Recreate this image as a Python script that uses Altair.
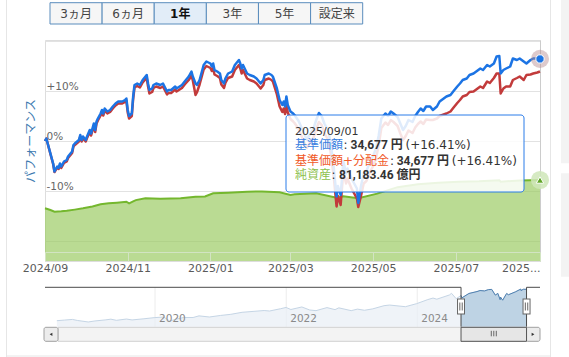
import altair as alt
import pandas as pd

# ---------------- data ----------------
range_start = "2024-09-01"
range_end = "2025-09-01"
nav_start = "2018-04-28"
nav_end = "2025-11-15"

# trading-day samples of the 1-year view (days after range_start)
perf_days = [0, 1, 4, 6, 7, 9, 10, 11, 12, 14, 16, 17, 20, 21, 22, 25, 26, 27, 28, 30,
             31, 33, 34, 36, 37, 38, 39, 41, 42, 43, 44, 46, 48, 50, 52, 54, 57, 59, 60, 61,
             62, 64, 65, 66, 68, 70, 72, 75, 76, 77, 79, 80, 82, 85, 87, 90, 91, 93, 96, 97,
             101, 103, 106, 108, 109, 111, 112, 114, 117, 119, 122, 123, 124, 125, 127, 129, 130, 132, 133, 135,
             138, 140, 143, 144, 145, 146, 149, 151, 154, 156, 159, 161, 162, 165, 167, 168, 171, 173, 175, 176,
             177, 178, 179, 181, 183, 184, 187, 189, 191, 193, 195, 198, 200, 202, 204, 206, 209, 211, 213, 215,
             216, 218, 220, 222, 223, 226, 228, 230, 231, 233, 235, 237, 240, 242, 244, 246, 248, 251, 253, 255,
             257, 260, 262, 264, 266, 268, 271, 273, 275, 277, 279, 281, 284, 286, 289, 291, 294, 296, 299, 301,
             304, 306, 308, 311, 313, 316, 318, 321, 323, 326, 328, 331, 333, 335, 336, 338, 340, 343, 345, 348,
             350, 353, 355, 358, 360, 363, 365]
# 基準価額 performance (%)
kijun_pct = [0.0, 0.5, -2.5, -4.5, -6.1, -5.1, -5.4, -4.5, -5.1, -4.1, -3.8, -3.1, -2.1, -0.8, -0.5, 0.2, 1.2, 0.2, 0.9, 0.2,
             0.9, 2.2, 1.5, 3.5, 2.2, 3.9, 4.5, 5.5, 6.2, 5.5, 6.5, 5.9, 6.2, 6.9, 7.5, 7.9, 7.9, 8.2, 8.5, 6.2,
             5.0, 5.5, 8.9, 11.2, 11.5, 11.2, 12.2, 13.2, 11.5, 10.2, 10.5, 11.2, 11.5, 11.2, 11.5, 9.9, 10.2, 10.2, 10.9, 10.5,
             11.2, 11.9, 12.9, 13.9, 12.9, 11.5, 11.2, 12.2, 15.2, 15.9, 15.5, 14.9, 15.5, 14.2, 13.9, 13.5, 12.2, 11.5, 12.5, 13.5,
             13.9, 15.2, 16.2, 15.5, 14.5, 15.2, 13.5, 13.2, 12.9, 12.5, 11.5, 12.2, 13.2, 13.5, 13.2, 12.9, 10.5, 8.2, 7.2, 7.9,
             6.9, 8.9, 7.2, 5.9, 5.5, 5.2, 4.0, 2.8, 1.5, 0.3, 1.2, 2.5, 4.2, 5.6, 5.0, 3.5, 2.0, -1.0, -5.5, -11.1,
             -9.0, -10.8, -4.0, -6.5, -5.5, -7.5, -8.5, -9.5, -12.4, -9.0, -6.5, -6.0, -4.0, -3.0, -1.5, 1.0, 4.5, 5.5, 5.0, 5.9,
             5.5, 4.8, 3.5, 2.2, 3.0, 4.2, 3.8, 5.0, 5.8, 6.5, 6.0, 6.9, 6.9, 6.2, 6.9, 7.9, 8.5, 8.9, 9.2, 9.9,
             10.9, 11.5, 12.2, 12.5, 13.2, 13.5, 13.9, 14.5, 14.2, 15.2, 14.9, 15.5, 16.9, 17.0, 13.5, 14.2, 14.5, 14.9, 16.5, 16.2,
             16.5, 15.9, 15.5, 16.2, 16.5, 16.5, 16.41]
# 基準価額+分配金 performance (%)
bunpai_pct = [0.0, 0.5, -2.6, -4.6, -6.2, -5.3, -5.6, -4.8, -5.4, -4.4, -4.1, -3.4, -2.4, -1.1, -0.8, -0.1, 0.9, -0.1, 0.6, -0.1,
              0.6, 1.8, 1.1, 3.1, 1.8, 3.5, 4.1, 5.1, 5.8, 5.1, 6.1, 5.5, 5.8, 6.5, 7.1, 7.5, 7.5, 7.8, 8.1, 5.7,
              4.5, 5.0, 8.4, 10.7, 11.0, 10.7, 11.7, 12.6, 10.9, 9.5, 9.8, 10.6, 10.9, 10.6, 10.9, 9.3, 9.6, 9.6, 10.3, 9.9,
              10.6, 11.3, 12.2, 13.1, 12.1, 9.2, 9.7, 11.3, 14.3, 15.0, 14.6, 14.0, 14.6, 13.3, 13.0, 12.6, 11.3, 10.6, 11.6, 12.6,
              12.9, 14.2, 15.2, 14.5, 13.5, 14.2, 12.5, 12.2, 11.9, 11.5, 10.5, 11.2, 12.2, 12.5, 12.2, 11.9, 9.3, 6.9, 5.8, 6.5,
              5.4, 7.4, 5.7, 4.4, 3.9, 3.6, 2.4, 1.1, -0.2, -1.4, -0.5, 0.7, 2.4, 3.8, 3.2, 1.6, 0.1, -2.9, -7.4, -13.1,
              -11.0, -12.8, -6.0, -8.5, -7.5, -9.5, -10.5, -11.5, -13.2, -11.0, -8.5, -8.0, -6.0, -5.0, -3.5, -1.0, 2.6, 3.7, 3.2, 4.2,
              3.8, 3.0, 1.5, 0.2, 1.0, 2.1, 1.6, 2.7, 3.4, 3.9, 3.4, 4.3, 4.2, 4.2, 4.5, 5.0, 5.3, 5.5, 5.9, 6.6,
              7.6, 8.2, 8.9, 9.2, 9.8, 9.9, 10.3, 10.9, 10.6, 11.9, 11.6, 12.6, 13.5, 13.5, 9.5, 10.5, 10.9, 10.9, 12.2, 12.6,
              12.9, 12.2, 13.2, 13.3, 13.5, 13.7, 13.9]

# 純資産 (億円)
asset_days = [0, 4, 7, 12, 16, 22, 28, 35, 41, 47, 53, 60, 62, 65, 67, 74, 85, 100, 111, 118,
              124, 135, 149, 160, 173, 181, 184, 200, 215, 220, 231, 245, 260, 275, 290, 305, 320, 335, 336, 350, 365]
asset_oku = [52800, 51100, 49400, 49800, 50300, 51500, 52800, 54600, 56800, 57800, 58500, 59400, 57800, 59800, 61000,
             62800, 62500, 63000, 64400, 64700, 67800, 68500, 69400, 69700, 68800, 66100, 66800, 68000, 63500, 64800,
             63000, 67500, 74000, 77000, 78500, 79500, 80000, 81000, 79500, 80800, 81183.46]

# navigator: 基準価額 since inception (円)
nav_dates = ["2018-07-03", "2018-08-15", "2018-09-28", "2018-10-25", "2018-12-25", "2019-01-31", "2019-03-29",
             "2019-04-30", "2019-05-31", "2019-07-26", "2019-08-26", "2019-10-31", "2019-12-27", "2020-02-19",
             "2020-03-23", "2020-04-30", "2020-06-08", "2020-07-31", "2020-09-02", "2020-10-30", "2020-12-30",
             "2021-02-26", "2021-04-30", "2021-06-30", "2021-08-31", "2021-09-30", "2021-11-30", "2021-12-31",
             "2022-01-27", "2022-03-29", "2022-05-12", "2022-06-16", "2022-08-16", "2022-09-30", "2022-10-21",
             "2022-12-29", "2023-02-02", "2023-03-13", "2023-04-28", "2023-06-30", "2023-07-31", "2023-10-27",
             "2023-12-29", "2024-02-29", "2024-03-29", "2024-04-19", "2024-06-28", "2024-07-10", "2024-08-05",
             "2024-09-01", "2024-09-06", "2024-10-15", "2024-11-29", "2024-12-16", "2025-01-10", "2025-01-31",
             "2025-02-19", "2025-03-11", "2025-03-25", "2025-04-07", "2025-04-09", "2025-04-21", "2025-05-13",
             "2025-05-23", "2025-06-30", "2025-07-31", "2025-08-01", "2025-08-14", "2025-09-01"]
nav_values = [10000, 10500, 11000, 10200, 9000, 9800, 10600, 11200, 10300, 11300, 10600, 11500, 12400, 12900,
              9700, 11300, 12500, 12500, 13800, 12900, 14100, 15000, 16600, 17300, 18000, 17600, 19400, 20400,
              18800, 20800, 18400, 17900, 20300, 18700, 20100, 17900, 19100, 18200, 19300, 21800, 22300, 21000,
              23400, 26600, 27800, 26900, 30200, 31500, 27300, 29790, 27970, 31400, 32900, 33700, 33400, 34400,
              34600, 30100, 31450, 26500, 28600, 26100, 31400, 30400, 32600, 34850, 33630, 34700, 34677]

x_tick_dates = ["2024-09-01", "2024-11-01", "2025-01-01", "2025-03-01", "2025-05-01", "2025-07-01", "2025-09-01"]
perf_ticks = [-20, -10, 0, 10, 20]
nav_years = ["2020-01-01", "2022-01-01", "2024-01-01"]
buttons = ["3ヵ月", "6ヵ月", "1年", "3年", "5年", "設定来"]
selected_button = "1年"

tip_date = "2025/09/01"
tip_price = 34677
tip_perf = 16.41
tip_assets = 81183.46

assert len(perf_days) == len(kijun_pct) == len(bunpai_pct)
assert len(asset_days) == len(asset_oku)
assert len(nav_dates) == len(nav_values)

# ---------------- styles ----------------
W, H = 495, 221
LAT = "DejaVu Sans"
CJK = "Noto Sans CJK JP"
MIX = "DejaVu Sans, Noto Sans CJK JP"
BOLDMIX = "Roboto, Noto Sans CJK JP"
BLUE = "#1c74e4"
RED = "#c23b3b"
GREEN_FILL = "#9ccc65"
GREEN_LINE = "#74b72e"
PERF_DOMAIN = [-24.0, 20.2]
ASSET_DOMAIN = [0, 221500]
NAV_DOMAIN_Y = [5284, 36249]


def dt(s):
    t = pd.Timestamp(s)
    return alt.DateTime(year=t.year, month=t.month, date=t.day)


base = pd.Timestamp(range_start)
perf = pd.DataFrame({
    "date": [base + pd.Timedelta(days=d) for d in perf_days],
    "kijun": kijun_pct,
    "bunpai": bunpai_pct,
})
assets = pd.DataFrame({
    "date": [base + pd.Timedelta(days=d) for d in asset_days],
    "oku": asset_oku,
})
perf_last = perf.tail(1)
assets_last = assets.tail(1)
nav = pd.DataFrame({"date": pd.to_datetime(nav_dates), "v": nav_values})
sel = pd.DataFrame({
    "s": [pd.Timestamp(range_start)], "e": [pd.Timestamp(range_end)],
    "n0": [pd.Timestamp(nav_start)], "n1": [pd.Timestamp(nav_end)],
    "mid": [pd.Timestamp(range_start) + (pd.Timestamp(range_end) - pd.Timestamp(range_start)) / 2],
})
years = pd.DataFrame({"y": pd.to_datetime(nav_years), "label": [d[:4] for d in nav_years]})
btn = pd.DataFrame({"label": buttons})
one = pd.DataFrame({"k": [0]})

time_scale = alt.Scale(domain=[dt(range_start), dt(range_end)])
last_test = "year(datum.value) == 2025 && month(datum.value) == 8"
x_axis = alt.Axis(
    values=[dt(d) for d in x_tick_dates],
    labelExpr=f"{last_test} ? '2025...' : timeFormat(datum.value, '%Y/%m')",
    labelAlign={"condition": {"test": last_test, "value": "right"}, "value": "center"},
    labelFlush=False, labelOverlap=False, labelBound=False,
    offset=-9, tickSize=9, tickColor="#d2e4c2", domainColor="#d2e4c2",
    labelPadding=1, labelFont=LAT, labelFontSize=11, labelColor="#5a5a5a",
    grid=False, title=None, zindex=1,
)
x_main = alt.X("date:T", scale=time_scale, axis=x_axis)

y_perf_axis = alt.Axis(
    orient="left", values=perf_ticks, grid=True, gridColor="#e2e2e2", domain=False,
    ticks=False, tickSize=0, labelAlign="left", labelBaseline="bottom", labelPadding=-1,
    labelExpr="abs(datum.value) >= 20 ? '' : (datum.value > 0 ? '+' : '') + datum.value + '%'",
    labelFont=LAT, labelFontSize=10.5, labelColor="#666666",
    title="パフォーマンス", titleFont=CJK, titleFontSize=12, titleFontWeight="normal",
    titleColor="#3d7ab0", titleAngle=270, titleX=-15, titleY=100.5,
    titleAlign="center", titleBaseline="middle",
)
perf_scale = alt.Scale(domain=PERF_DOMAIN)
y_kijun = alt.Y("kijun:Q", scale=perf_scale, axis=y_perf_axis, title="パフォーマンス")
y_bunpai = alt.Y("bunpai:Q", scale=perf_scale, axis=y_perf_axis, title="パフォーマンス")

asset_y = alt.Y("oku:Q", scale=alt.Scale(domain=ASSET_DOMAIN),
                axis=alt.Axis(orient="right", domain=True, domainColor="#cccccc", labels=False,
                              ticks=False, grid=False, title=None))

# ---- net assets (green area, right axis) ----
asset_area = alt.Chart(assets).mark_area(
    color=GREEN_FILL, line={"color": GREEN_LINE, "strokeWidth": 2}
).encode(x=x_main, y=asset_y)
asset_halo = alt.Chart(assets_last).mark_circle(size=330, color="#cfe6b8", opacity=0.85).encode(
    x=x_main, y=asset_y)
asset_mark = alt.Chart(assets_last).mark_point(
    shape="triangle-up", filled=True, size=55, color="#5fa526", stroke="white", strokeWidth=1, opacity=1
).encode(x=x_main, y=asset_y)
asset_layer = alt.layer(asset_area, asset_halo, asset_mark)

# ---- performance lines ----
red_line = alt.Chart(perf).mark_line(color=RED, strokeWidth=2.5, strokeJoin="round").encode(
    x=x_main, y=y_bunpai)
blue_line = alt.Chart(perf).mark_line(color=BLUE, strokeWidth=2.5, strokeJoin="round").encode(
    x=x_main, y=y_kijun)
blue_halo = alt.Chart(perf_last).mark_circle(size=330, color="#b58a8e", opacity=0.45).encode(
    x=x_main, y=y_kijun)
blue_mark = alt.Chart(perf_last).mark_point(
    shape="circle", filled=True, size=70, color=BLUE, stroke="white", strokeWidth=1, opacity=1
).encode(x=x_main, y=y_kijun)
perf_layer = alt.layer(red_line, blue_line, blue_halo, blue_mark)

time_layer = alt.layer(asset_layer, perf_layer).resolve_scale(y="independent")

# ---- navigator ----
nav_xs = alt.Scale(domain=[dt(nav_start), dt(nav_end)])
nav_ys = alt.Scale(domain=NAV_DOMAIN_Y, range=[286.7, 247.3])
nx = lambda f: alt.X(f"{f}:T", scale=nav_xs, axis=None)
NT, NB = 247.3, 286.7

nav_grid = alt.Chart(years).mark_rule(color="#ececec").encode(x=nx("y"), y=alt.value(NT), y2=alt.value(NB))
nav_light = alt.Chart(nav).mark_area(color="#e8eef5", line={"color": "#c5d5e5", "strokeWidth": 1}).encode(
    x=nx("date"), y=alt.Y("v:Q", scale=nav_ys, axis=None), y2=alt.datum(NAV_DOMAIN_Y[0]))
nav_dark = alt.Chart(nav).transform_filter(
    alt.FieldGTEPredicate(field="date", gte=dt(range_start))
).mark_area(color="#a9c4dc", line={"color": "#4f80b0", "strokeWidth": 1}).encode(
    x=nx("date"), y=alt.Y("v:Q", scale=nav_ys, axis=None), y2=alt.datum(NAV_DOMAIN_Y[0]))
nav_labels = alt.Chart(years).mark_text(align="left", dx=4, baseline="middle", font=LAT, fontSize=10.5,
                                        color="#8a8a8a").encode(x=nx("y"), y=alt.value(278.7), text="label:N")
OUT = "#4a4a4a"
o1 = alt.Chart(sel).mark_rule(color=OUT).encode(x=nx("n0"), x2="s:T", y=alt.value(NT))
o2 = alt.Chart(sel).mark_rule(color=OUT).encode(x=nx("s"), y=alt.value(NT), y2=alt.value(NB))
o3 = alt.Chart(sel).mark_rule(color=OUT).encode(x=nx("e"), y=alt.value(NT), y2=alt.value(NB))
o4 = alt.Chart(sel).mark_rule(color=OUT).encode(x=nx("e"), x2="n1:T", y=alt.value(NT))

# scrollbar
SB0, SB1 = 287.3, 301.3
track = alt.Chart(one).mark_rect(fill="#f3f3f3", stroke="#d0d0d0", strokeWidth=1).encode(
    x=alt.value(13), x2=alt.value(480.7), y=alt.value(SB0), y2=alt.value(SB1))
lbtn = alt.Chart(one).mark_rect(fill="#ececec", stroke="#a0a0a0", strokeWidth=1, cornerRadius=2).encode(
    x=alt.value(-1), x2=alt.value(13), y=alt.value(SB0), y2=alt.value(SB1))
rbtn = alt.Chart(one).mark_rect(fill="#ececec", stroke="#a0a0a0", strokeWidth=1, cornerRadius=2).encode(
    x=alt.value(480.7), x2=alt.value(495), y=alt.value(SB0), y2=alt.value(SB1))
larr = alt.Chart(one).mark_point(shape="triangle-left", filled=True, size=10, color="#333333", opacity=1).encode(
    x=alt.value(6), y=alt.value(294.3))
rarr = alt.Chart(one).mark_point(shape="triangle-right", filled=True, size=10, color="#333333", opacity=1).encode(
    x=alt.value(488), y=alt.value(294.3))
thumb = alt.Chart(sel).mark_rect(fill="#e6e6e6", stroke="#555555", strokeWidth=1).encode(
    x=nx("s"), x2="e:T", y=alt.value(SB0), y2=alt.value(SB1))
grips = [alt.Chart(sel).mark_rule(color="#666666", xOffset=o).encode(x=nx("mid"), y=alt.value(290.8), y2=alt.value(296.3))
         for o in (-2.5, 0, 2.5)]

# handles
handles = []
for f in ("s", "e"):
    handles.append(alt.Chart(sel).mark_rule(color="#666666", strokeWidth=8).encode(
        x=nx(f), y=alt.value(258.5), y2=alt.value(274.5)))
    handles.append(alt.Chart(sel).mark_rule(color="white", strokeWidth=6).encode(
        x=nx(f), y=alt.value(259.5), y2=alt.value(273.5)))
    for o in (-1.2, 1.2):
        handles.append(alt.Chart(sel).mark_rule(color="#666666", strokeWidth=1, xOffset=o).encode(
            x=nx(f), y=alt.value(262.5), y2=alt.value(270.5)))

nav_layer = alt.layer(nav_grid, nav_light, nav_dark, nav_labels, track, lbtn, rbtn, larr, rarr,
                      thumb, *grips, o1, o2, o3, o4, *handles)

# ---- range buttons ----
bx = alt.X("label:N", sort=buttons, scale=alt.Scale(range=[5, 317.7], paddingInner=0, paddingOuter=0), axis=None)
btn_rect = alt.Chart(btn).mark_bar(stroke="#5a8dbd", strokeWidth=1).encode(
    x=bx, y=alt.value(-37.3), y2=alt.value(-16),
    fill=alt.condition(alt.datum.label == selected_button, alt.value("#e2edf8"), alt.value("#f6f6f6")))
btn_text = alt.Chart(btn).transform_filter(alt.datum.label != selected_button).mark_text(
    font=MIX, fontSize=12, color="#444444", baseline="middle").encode(x=bx, y=alt.value(-26.4), text="label:N")
btn_sel = alt.Chart(btn).transform_filter(alt.datum.label == selected_button).mark_text(
    font=MIX, fontSize=12, fontWeight="bold", color="#111111", baseline="middle").encode(
    x=bx, y=alt.value(-26.4), text="label:N")
btn_layer = alt.layer(btn_rect, btn_text, btn_sel)

# ---- tooltip ----
tip_box = alt.Chart(one).mark_rect(fill="white", fillOpacity=0.86, stroke="#2b7ce9", strokeWidth=1,
                                   cornerRadius=3).encode(
    x=alt.value(241), x2=alt.value(479), y=alt.value(75), y2=alt.value(152))


def tt(text, x, y, color="#333333", font=MIX, size=12, weight="normal"):
    return alt.Chart(one).mark_text(text=text, align="left", baseline="middle", font=font, fontSize=size,
                                    fontWeight=weight, color=color).encode(x=alt.value(x), y=alt.value(y))


price_s = f"{tip_price:,} 円"
perf_s = f"(+{tip_perf:.2f}%)"
assets_s = f"{tip_assets:,.2f} 億円"
tips = [
    tt(tip_date, 250, 91.6, font=LAT, size=11),
    tt("基準価額", 250, 105.3, color="#3a7fe0"), tt(":", 298.5, 105.3),
    tt(price_s, 305.5, 105.3, font=BOLDMIX, size=12, weight="bold"), tt(perf_s, 360.5, 105.3, font=LAT, size=12),
    tt("基準価額+分配金", 250, 121.2, color="#f05a28"), tt(":", 345.0, 121.2),
    tt(price_s, 351.7, 121.2, font=BOLDMIX, size=12, weight="bold"), tt(perf_s, 406.7, 121.2, font=LAT, size=12),
    tt("純資産", 250, 134.8, color="#8cbf4c"), tt(":", 286.5, 134.8),
    tt(assets_s, 294, 134.8, font=BOLDMIX, size=12, weight="bold"),
]

# ---- page frame ----
frame = [
    alt.Chart(one).mark_rule(color="#e6e6e6").encode(x=alt.value(-38.5), y=alt.value(-40), y2=alt.value(317)),
    alt.Chart(one).mark_rule(color="#e6e6e6").encode(x=alt.value(505.5), y=alt.value(-40), y2=alt.value(317)),
    alt.Chart(one).mark_rule(color="#e6e6e6").encode(x=alt.value(-38.5), x2=alt.value(505.5), y=alt.value(316)),
    alt.Chart(one).mark_rect(color="#f3f3f3").encode(x=alt.value(516), x2=alt.value(524), y=alt.value(-40), y2=alt.value(123.3)),
    alt.Chart(one).mark_rect(color="#f3f3f3").encode(x=alt.value(516), x2=alt.value(524), y=alt.value(133.3), y2=alt.value(236.7)),
]

chart = alt.layer(
    *frame, time_layer, nav_layer, btn_layer, tip_box, *tips
).resolve_scale(x="independent", y="independent").properties(
    width=W, height=H,
    padding={"left": 45, "top": 40, "right": 29, "bottom": 96},
    autosize=alt.AutoSizeParams(type="none"),
).configure_view(strokeWidth=0).configure(background="white")

chart.save("out.html", embed_options={"renderer": "svg", "actions": False})
